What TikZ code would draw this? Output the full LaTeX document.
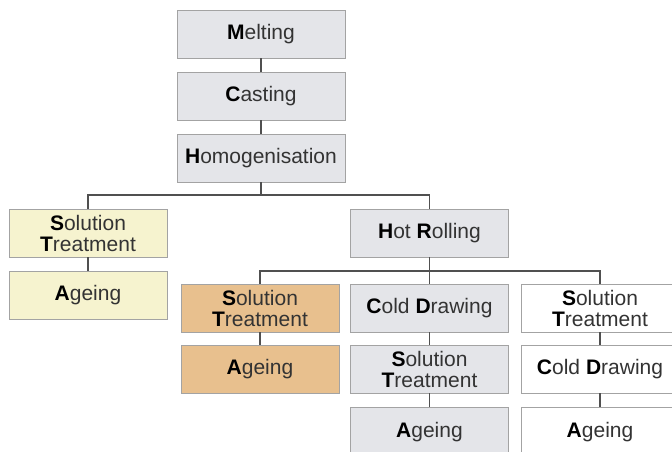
\documentclass[tikz,border=0pt]{standalone}
\usepackage{fontspec}
\setmainfont{Liberation Sans}
\definecolor{gfill}{HTML}{E4E5E9}
\definecolor{yfill}{HTML}{F6F3CF}
\definecolor{ofill}{HTML}{E8C08E}
\definecolor{bord}{HTML}{A3A3A3}
\definecolor{lnc}{HTML}{505050}
\definecolor{txt}{HTML}{333333}
\newcommand{\fl}[1]{{\bfseries\color{black}#1}}
\begin{document}
\begin{tikzpicture}[x=1pt,y=-1pt,
  box/.style={draw=bord,line width=0.9pt,minimum width=158pt,minimum height=48pt,
    inner sep=0pt,align=center,text=txt,font=\fontsize{21}{21}\selectfont},
  gbox/.style={box,fill=gfill},
  ybox/.style={box,fill=yfill},
  obox/.style={box,fill=ofill},
  wbox/.style={box,fill=white},
  conn/.style={draw=lnc,line width=1.3pt}]
\useasboundingbox (0,0) rectangle (672,452);
\clip (0,0) rectangle (672,452);
\fill[white] (0,0) rectangle (672,452);
% connectors first
\node[gbox,minimum width=168pt] (melt) at (261,34) {\fl{M}elting};
\node[gbox,minimum width=168pt] (cast) at (261,96) {\fl{C}asting};
\node[gbox,minimum width=168pt] (homo) at (261,158) {\fl{H}omogenisation};
\node[ybox] (lst) at (88,233) {\fl{S}olution\\\fl{T}reatment};
\node[ybox] (lag) at (88,295) {\fl{A}geing};
\node[gbox] (hot) at (429.5,233) {\fl{H}ot \fl{R}olling};
\node[obox] (ost) at (260,308) {\fl{S}olution\\\fl{T}reatment};
\node[obox] (oag) at (260,369) {\fl{A}geing};
\node[gbox] (gcd) at (429.5,308) {\fl{C}old \fl{D}rawing};
\node[gbox] (gst) at (429.5,369) {\fl{S}olution\\\fl{T}reatment};
\node[gbox,minimum height=50pt] (gag) at (429.5,432) {\fl{A}geing};
\node[wbox] (wst) at (600,308) {\fl{S}olution\\\fl{T}reatment};
\node[wbox] (wcd) at (600,369) {\fl{C}old \fl{D}rawing};
\node[wbox,minimum height=50pt] (wag) at (600,432) {\fl{A}geing};
\coordinate (bus1) at (261,195);
\coordinate (bus2) at (429.5,271);
\path[conn] (melt) -- (cast);
\path[conn] (cast) -- (homo);
\path[conn] (homo) -- (bus1);
\path[conn] (lst.north) |- (bus1) -| (hot.north);
\path[conn] (lst) -- (lag);
\path[conn] (hot) -- (bus2);
\path[conn] (ost.north) |- (bus2) -| (wst.north);
\path[conn] (bus2) -- (gcd);
\path[conn] (ost) -- (oag);
\path[conn] (gcd) -- (gst);
\path[conn] (gst) -- (gag);
\path[conn] (wst) -- (wcd);
\path[conn] (wcd) -- (wag);
\end{tikzpicture}
\end{document}
